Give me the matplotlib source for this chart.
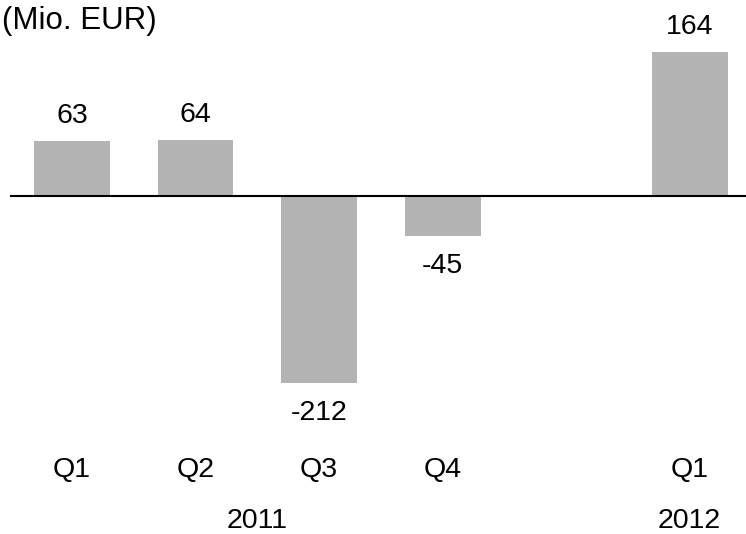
import matplotlib
matplotlib.use("Agg")
import matplotlib.pyplot as plt
import numpy as np

plt.rcParams['font.family'] = ['Liberation Sans', 'DejaVu Sans']

# data
quarters = ['Q1', 'Q2', 'Q3', 'Q4', 'Q1']
years = ['2011', '2012']
values = [63, 64, -212, -45, 164]
positions = [0, 1, 2, 3, 5]   # gap before 2012

bar_color = '#b3b3b3'
fs = 20.5

fig = plt.figure(figsize=(7.46, 5.34), dpi=100)
ax = fig.add_axes([0, 0, 1, 1])
ax.set_xlim(-0.583, 5.457)
ax.set_ylim(-384.1, 222.7)
ax.axis('off')

ax.bar(positions, values, width=0.615, color=bar_color, zorder=2)
ax.axhline(0, xmin=11 / 746, xmax=1, color='black', lw=1.5, zorder=3)

# value labels
for x, v in zip(positions, values):
    off = 18 if v >= 0 else -22
    ax.annotate(str(v), (x, v), xytext=(0, off), textcoords='offset points',
                ha='center', va='center', fontsize=fs)

# quarter labels
for x, q in zip(positions, quarters):
    ax.text(x, -311, q, ha='center', va='center', fontsize=fs)

# year labels
ax.text(1.5, -369.5, years[0], ha='center', va='center', fontsize=fs)
ax.text(5, -369.5, years[1], ha='center', va='center', fontsize=fs)

ax.text(-0.567, 199, '(Mio. EUR)', ha='left', va='center', fontsize=22.5)

fig.savefig('out.png', dpi=100)
